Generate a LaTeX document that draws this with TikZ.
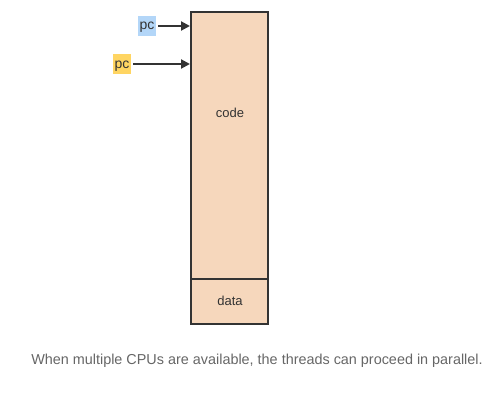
\documentclass[tikz,border=0pt]{standalone}
\usepackage{fontspec}
\setmainfont{Liberation Sans}
\usetikzlibrary{arrows.meta}
\definecolor{memfill}{HTML}{F6D7BC}
\definecolor{memline}{HTML}{333333}
\definecolor{pcblue}{HTML}{B3D6F8}
\definecolor{pcyellow}{HTML}{FFD562}
\definecolor{captiongrey}{HTML}{666666}
\tikzset{
	pclabel/.style={inner xsep=1.5pt, inner ysep=5pt, text height=9pt, text depth=1pt, font=\fontsize{14}{15}\selectfont, text=memline},
	pcarrow/.style={line width=2pt, color=memline, shorten <=2pt, -{Triangle[length=9pt, width=9pt]}},
}

\begin{document}
\begin{tikzpicture}[x=1pt, y=-1pt]
			%%%%% START %%%%%
			
			\useasboundingbox (0, 0) rectangle (502, 404);
			
			% memory block
			\draw[fill=memfill, draw=memline, line width=2pt] (191, 12) rectangle (268, 324);
			\draw[draw=memline, line width=2pt] (191, 279) -- (268, 279);
			\node[font=\fontsize{13}{14}\selectfont, text=memline] (code) at (230, 113) {code};
			\node[font=\fontsize{13}{14}\selectfont, text=memline] (data) at (230, 301) {data};
			
			% program counters
			\node[pclabel, fill=pcblue] (pcone) at (147, 26) {pc};
			\node[pclabel, fill=pcyellow] (pctwo) at (122, 64) {pc};
			\coordinate (pconeend) at (190, 26);
			\coordinate (pctwoend) at (190, 64);
			\draw[pcarrow] (pcone) -- (pconeend);
			\draw[pcarrow] (pctwo) -- (pctwoend);
			
			% caption
			\node[font=\fontsize{14.4}{16}\selectfont, text=captiongrey] (caption) at (257, 361) {When multiple CPUs are available, the threads can proceed in parallel.};
			
			%%%%% END %%%%%
		\end{tikzpicture}
\end{document}
